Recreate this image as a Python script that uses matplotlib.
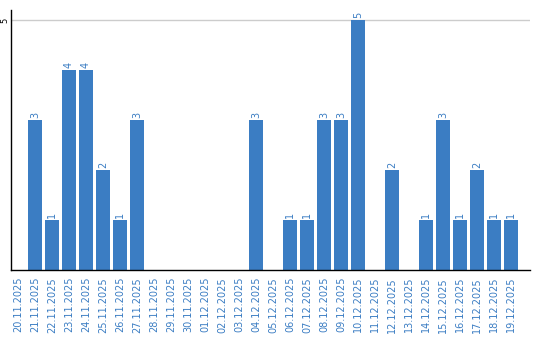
import matplotlib
matplotlib.use("Agg")
import matplotlib.pyplot as plt

# daily counts, 20.11.2025 - 19.12.2025
dates = ["20.11.2025", "21.11.2025", "22.11.2025", "23.11.2025", "24.11.2025",
         "25.11.2025", "26.11.2025", "27.11.2025", "28.11.2025", "29.11.2025",
         "30.11.2025", "01.12.2025", "02.12.2025", "03.12.2025", "04.12.2025",
         "05.12.2025", "06.12.2025", "07.12.2025", "08.12.2025", "09.12.2025",
         "10.12.2025", "11.12.2025", "12.12.2025", "13.12.2025", "14.12.2025",
         "15.12.2025", "16.12.2025", "17.12.2025", "18.12.2025", "19.12.2025"]
counts = [0, 3, 1, 4, 4, 2, 1, 3, 0, 0,
          0, 0, 0, 0, 3, 0, 1, 1, 3, 3,
          5, 0, 2, 0, 1, 3, 1, 2, 1, 1]

blue = "#3b7dc3"

fig = plt.figure(figsize=(5.4, 3.4), dpi=100)
ax = fig.add_axes([11 / 540, 70 / 340, 519 / 540, 260 / 340])

x = list(range(len(dates)))
ax.bar(x, counts, width=0.82, color=blue, zorder=2)

for i, v in enumerate(counts):
    if v > 0:
        ax.text(i, v + 0.04, str(v), rotation=90, ha="center", va="bottom",
                fontsize=7, color=blue)

ax.set_xlim(-0.41, 30.1)
ax.set_ylim(0, 5.2)
ax.set_yticks([5])
ax.set_yticklabels(["5"], rotation=90, va="center", fontsize=6)
ax.axhline(5, color="#cccccc", lw=1, zorder=1)

ax.set_xticks(x)
ax.set_xticklabels(dates, rotation=90, fontsize=7, color=blue)
ax.tick_params(axis="x", length=0, pad=5)
ax.tick_params(axis="y", length=0, pad=1)

for s in ["top", "right"]:
    ax.spines[s].set_visible(False)
ax.spines["left"].set_linewidth(1)
ax.spines["bottom"].set_linewidth(1)

fig.savefig("out.png", dpi=100)
